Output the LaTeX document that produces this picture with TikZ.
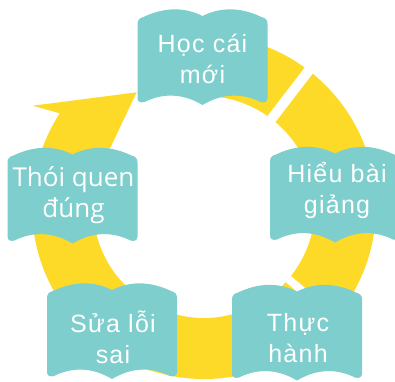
\documentclass[tikz,border=0pt]{standalone}
\usepackage{fontspec}
\setmainfont{Liberation Sans}
\newfontfamily\steplabelfont[LetterSpace=5]{Liberation Sans}
\newfontfamily\habitfont{Open Sans}
\definecolor{bookteal}{RGB}{126,206,205}
\definecolor{ringyellow}{RGB}{254,218,40}
\def\drawbook(#1,#2){\fill[bookteal,shift={(#1,#2)}] (-65,38) -- (-65,-36)
  .. controls (-65,-40) and (-63,-42) .. (-59,-43)
  .. controls (-40,-52) and (-20,-54) .. (0,-44)
  .. controls (20,-54) and (40,-52) .. (59,-43)
  .. controls (63,-42) and (65,-40) .. (65,-36) -- (65,38)
  .. controls (65,42) and (62,43) .. (58,42)
  .. controls (40,33) and (20,33) .. (0,45)
  .. controls (-20,33) and (-40,33) .. (-58,42)
  .. controls (-62,43) and (-65,42) .. (-65,38) -- cycle;}
\def\steplabel{\node[text=white,align=center,anchor=base,inner sep=0pt,font=\steplabelfont\fontsize{25}{31}\selectfont]}

\begin{document}
\begin{tikzpicture}[x=1pt,y=-1pt]
\useasboundingbox (0,0) rectangle (395,381);
\begin{scope}[shift={(204,207)},yscale=-1]
\fill[ringyellow] (147:172) -- (149.4:199) -- (120.4:133) -- (147:111)
  arc[start angle=147,end angle=445,radius=111] -- (445:172)
  arc[start angle=445,end angle=147,radius=172] -- cycle;
\draw[white,line width=10pt] (52.5:100) -- (52.5:180);
\draw[white,line width=8pt] (-40.5:100) -- (-40.5:180);
\end{scope}
\drawbook(202.5,60)
\steplabel (hoc) at (202.5,83) {Học cái\\mới};
\drawbook(335,197.5)
\steplabel (hieu) at (337,213) {Hiểu bài\\giảng};
\drawbook(297,335.5)
\steplabel (thuc) at (298,362) {Thực\\hành};
\drawbook(112,334)
\steplabel (sua) at (113,363) {Sửa lỗi\\sai};
\drawbook(72.5,198.5)
\steplabel[font=\habitfont\fontsize{26}{31}\selectfont] (thoi) at (73.5,217) {Thói quen\\đúng};
\end{tikzpicture}
\end{document}
